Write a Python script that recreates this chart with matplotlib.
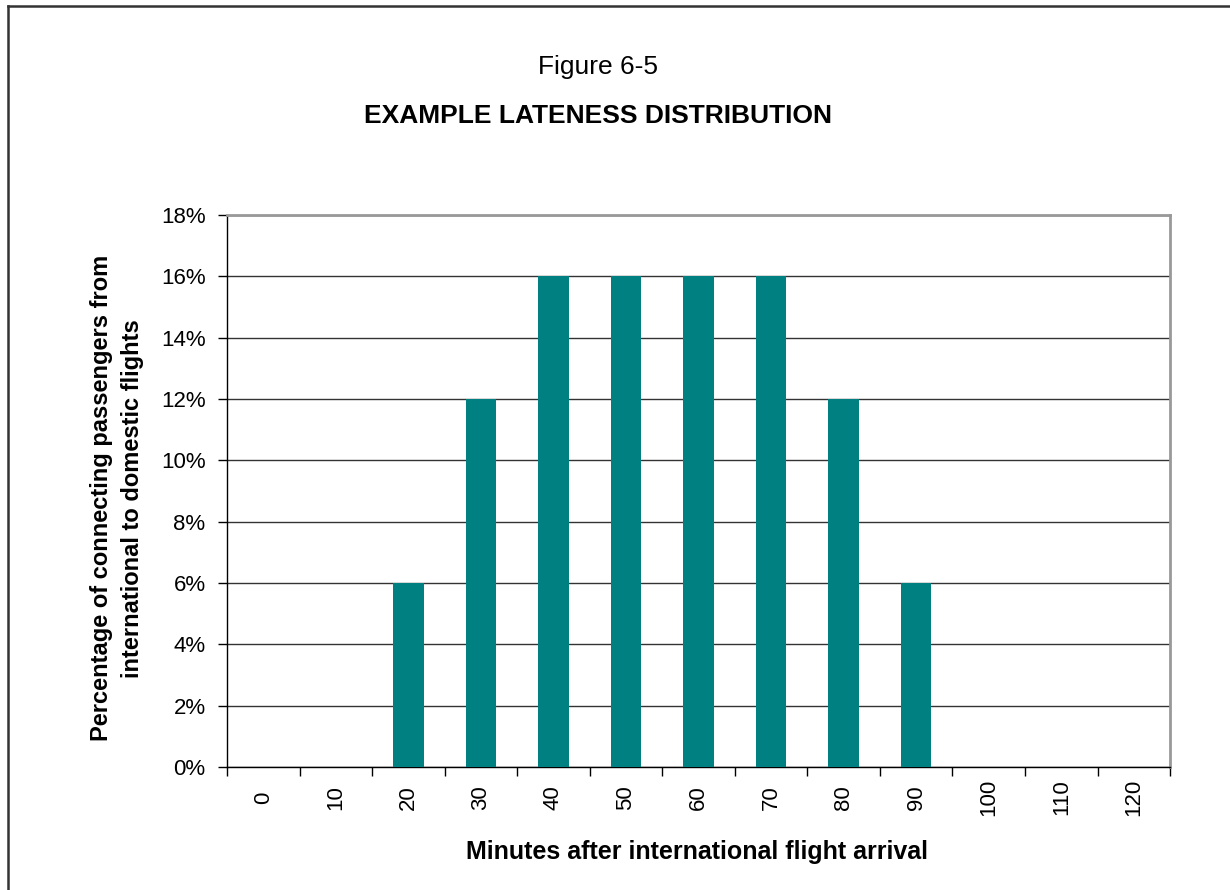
import numpy as np
import matplotlib.pyplot as plt
from matplotlib.lines import Line2D
from matplotlib.ticker import FixedLocator, PercentFormatter

minutes = ["0", "10", "20", "30", "40", "50", "60", "70", "80", "90", "100", "110", "120"]
share = [0, 0, 6, 12, 16, 16, 16, 16, 12, 6, 0, 0, 0]

plt.rcParams['font.family'] = ['Liberation Sans', 'DejaVu Sans']

fig = plt.figure(figsize=(12.3, 8.9), dpi=100)
ax = fig.add_axes([0.1846, 0.1382, 0.7667, 0.6202])

x = np.arange(len(minutes))
ax.bar(x, share, width=0.42, color='#008080', zorder=3)

ax.set_xlim(-0.5, len(minutes) - 0.5)
ax.set_ylim(0, 18)
ax.set_yticks(np.arange(0, 19, 2))
ax.yaxis.set_major_formatter(PercentFormatter(decimals=0))
ax.grid(axis='y', color='#333333', linewidth=1.0, zorder=0)

# tick marks sit between categories, labels at the centres
ax.xaxis.set_major_locator(FixedLocator(np.arange(-0.5, len(minutes), 1.0)))
ax.xaxis.set_major_formatter(plt.NullFormatter())
ax.xaxis.set_minor_locator(FixedLocator(x))
ax.set_xticklabels(minutes, minor=True, rotation=90, va='center', ha='center')
ax.tick_params(axis='x', which='minor', length=0, pad=22, labelsize=16)
ax.tick_params(axis='x', which='major', length=6.5, width=1, direction='out')
ax.tick_params(axis='y', length=6.5, width=1, direction='out', labelsize=16, pad=9)

for side in ('left', 'bottom'):
    ax.spines[side].set_color('black')
    ax.spines[side].set_linewidth(1.0)
for side in ('top', 'right'):
    ax.spines[side].set_color('#999999')
    ax.spines[side].set_linewidth(2.0)

ax.set_xlabel("Minutes after international flight arrival", fontsize=18,
              fontweight='bold', va='center')
ax.xaxis.set_label_coords(0.498, -0.154)
ax.set_ylabel("Percentage of connecting passengers from\ninternational to domestic flights",
              fontsize=17, fontweight='bold', va='center', linespacing=1.45)
ax.yaxis.set_label_coords(-0.117, 0.487)

fig.text(0.486, 0.925, "Figure 6-5", ha='center', va='center', fontsize=19)
fig.text(0.486, 0.870, "EXAMPLE LATENESS DISTRIBUTION", ha='center', va='center',
         fontsize=19, fontweight='bold')

# outer chart frame
fig.add_artist(Line2D([8 / 1230, 1.0], [1 - 6 / 890] * 2, transform=fig.transFigure,
                      color='#333333', linewidth=1.8))
fig.add_artist(Line2D([8 / 1230] * 2, [0.0, 1 - 6 / 890], transform=fig.transFigure,
                      color='#333333', linewidth=1.8))

fig.savefig("out.png", dpi=100)
